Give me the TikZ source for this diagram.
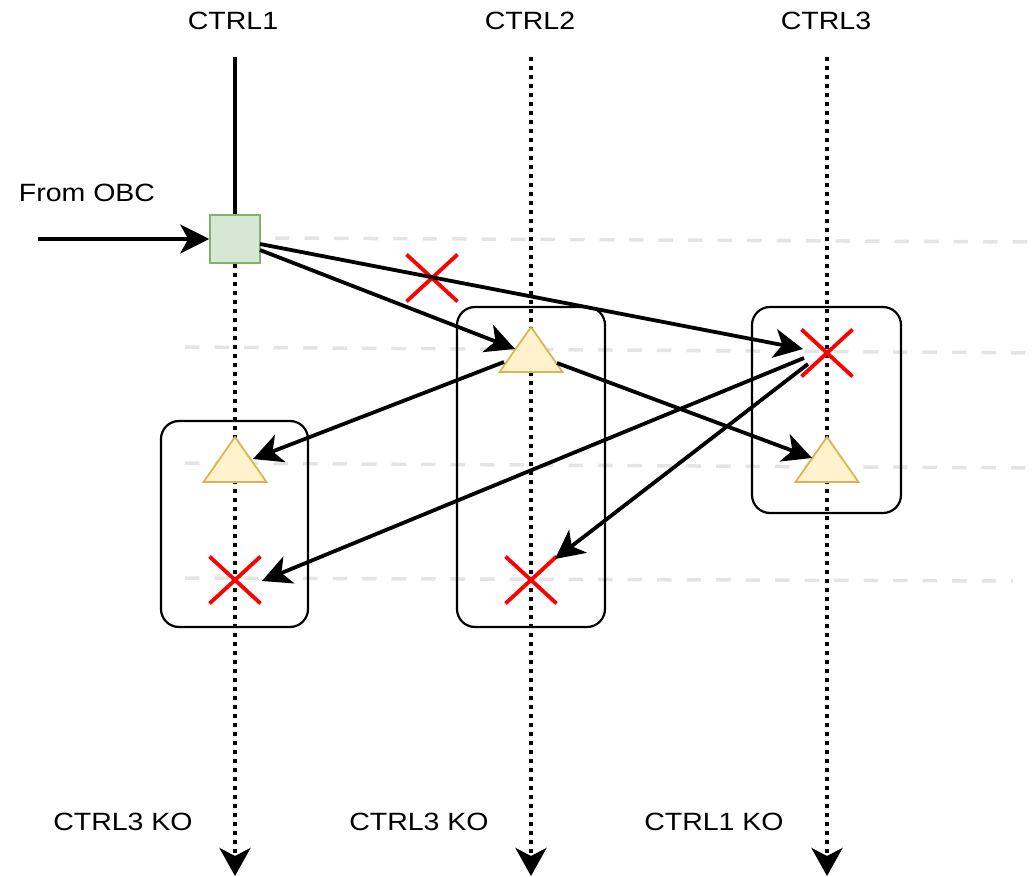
\documentclass[tikz,border=0pt]{standalone}
\usepackage{fontspec}
\setmainfont{Liberation Sans}[FakeStretch=1.14]
\usetikzlibrary{arrows.meta,shapes.misc}
\definecolor{gline}{HTML}{E4E4E4}
\definecolor{sqfill}{HTML}{D5E8D4}
\definecolor{sqdraw}{HTML}{82B366}
\definecolor{trifill}{HTML}{FFF2CC}
\definecolor{tridraw}{HTML}{D6B656}
\begin{document}
\begin{tikzpicture}[x=1pt,y=-1pt,
  lbl/.style={font=\fontsize{25}{30}\selectfont, anchor=base, inner sep=0pt},
  guide/.style={draw=gline, line width=3.5pt, dash pattern=on 14.5pt off 15pt},
  ctrldot/.style={line width=4pt, dash pattern=on 4pt off 5pt, -{Stealth[length=28pt,width=31pt,inset=8pt]}},
  ctrlsolid/.style={line width=4pt},
  grp/.style={draw, line width=2.2pt, rounded corners=18pt, inner sep=0pt},
  sqbox/.style={draw=sqdraw, fill=sqfill, line width=1.5pt, minimum width=50pt, minimum height=48pt, inner sep=0pt},
  tri/.style={fill=trifill, draw=tridraw, line width=1.8pt, line join=miter},
  ko/.style={cross out, draw=red, line width=3.8pt, minimum width=51pt, minimum height=47pt, inner sep=0pt, outer sep=0pt},
  arr/.style={line width=3.8pt, -{Stealth[length=29pt,width=29pt,inset=8pt]}},
]
\useasboundingbox (0,0) rectangle (1036,877);

% labels
\node[lbl] (c1) at (233,30) {CTRL1};
\node[lbl] (c2) at (530,30) {CTRL2};
\node[lbl] (c3) at (826,30) {CTRL3};
\node[lbl] (obc) at (87,202) {From OBC};
\node[lbl] (k1) at (123,830) {CTRL3 KO};
\node[lbl] (k2) at (419,830) {CTRL3 KO};
\node[lbl] (k3) at (714,830) {CTRL1 KO};

% grey guide lines
\coordinate (g1a) at (275,238); \coordinate (g1b) at (1036,242);
\coordinate (g2a) at (185,347); \coordinate (g2b) at (1036,353);
\coordinate (g3a) at (185,463); \coordinate (g3b) at (1036,468);
\coordinate (g4a) at (185,578); \coordinate (g4b) at (1013,581);
\draw[guide] (g1a) -- (g1b);
\draw[guide] (g2a) -- (g2b);
\draw[guide] (g3a) -- (g3b);
\draw[guide] (g4a) -- (g4b);

% controller time lines
\node[sqbox] (sq) at (235,239) {};
\coordinate (l1top) at (235,57);
\coordinate (l1end) at (235,876);
\coordinate (l2top) at (531,57);
\coordinate (l2end) at (531,876);
\coordinate (l3top) at (827,57);
\coordinate (l3end) at (827,876);
\draw[ctrlsolid] (l1top) -- (sq.north);
\draw[ctrldot] (sq.south) -- (l1end);
\draw[ctrldot] (l2top) -- (l2end);
\draw[ctrldot] (l3top) -- (l3end);
\node[sqbox] at (sq) {};

% group boxes
\node[grp, minimum width=147pt, minimum height=206pt] (bL) at (234.5,524) {};
\node[grp, minimum width=148pt, minimum height=320pt] (bM) at (531,467) {};
\node[grp, minimum width=149pt, minimum height=206pt] (bR) at (826.5,410) {};

% triangles
\coordinate (t1) at (235,459.5);
\coordinate (t2) at (531,349.5);
\coordinate (t3) at (827,459.5);
\draw[tri] (t1) ++(0,-22.5) -- ++(31.5,45) -- ++(-63,0) -- cycle;
\draw[tri] (t2) ++(0,-22.5) -- ++(31.5,45) -- ++(-63,0) -- cycle;
\draw[tri] (t3) ++(0,-22.5) -- ++(31.5,45) -- ++(-63,0) -- cycle;

% crosses
\node[ko] (x0) at (432,278) {};
\node[ko, fill=white] (x3) at (827,353) {};
\node[ko] (x1) at (235,580) {};
\node[ko] (x2) at (531,580) {};

% arrows
\coordinate (obcstart) at (38,239);
\draw[arr] (obcstart) -- (sq.west);
\coordinate (a1s) at (260,244); \coordinate (a1e) at (803,349);
\coordinate (a2s) at (260,250); \coordinate (a2e) at (515,349);
\coordinate (a3s) at (504,362); \coordinate (a3e) at (253,459);
\coordinate (a4s) at (557,363); \coordinate (a4e) at (812,458);
\coordinate (a5s) at (804,358); \coordinate (a5e) at (262,581);
\coordinate (a6s) at (808,364); \coordinate (a6e) at (555,559);
\draw[arr] (a1s) -- (a1e);
\draw[arr] (a2s) -- (a2e);
\draw[arr] (a3s) -- (a3e);
\draw[arr] (a4s) -- (a4e);
\draw[arr] (a5s) -- (a5e);
\draw[arr] (a6s) -- (a6e);
\end{tikzpicture}
\end{document}
